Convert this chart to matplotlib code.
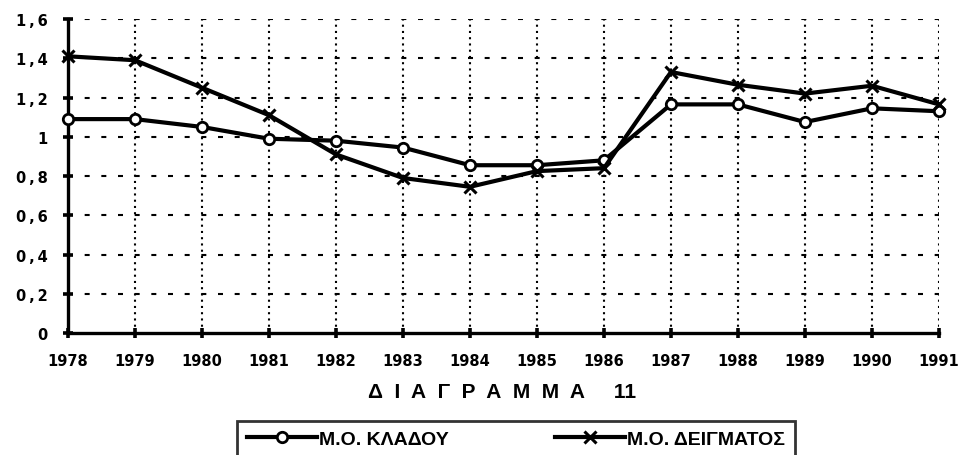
import matplotlib.pyplot as plt
import matplotlib.ticker as mticker

# Values
years = [1978, 1979, 1980, 1981, 1982, 1983, 1984, 1985, 1986, 1987, 1988, 1989, 1990, 1991]
mo_kladou = [1.09, 1.09, 1.05, 0.99, 0.98, 0.945, 0.855, 0.855, 0.88, 1.165, 1.165, 1.075, 1.145, 1.13]
mo_deigmatos = [1.41, 1.39, 1.25, 1.11, 0.91, 0.79, 0.745, 0.825, 0.84, 1.33, 1.265, 1.22, 1.26, 1.165]
y_ticks = [0, 0.2, 0.4, 0.6, 0.8, 1.0, 1.2, 1.4, 1.6]
label_kladou = 'Μ.Ο. ΚΛΑΔΟΥ'
label_deigmatos = 'Μ.Ο. ΔΕΙΓΜΑΤΟΣ'
title = 'Δ  Ι  Α  Γ  Ρ  Α  Μ  Μ  Α     11'

fig = plt.figure(figsize=(9.67, 4.56), dpi=100)
ax = fig.add_axes([0.0703, 0.2675, 0.9007, 0.6886])

# Grid: short-dash horizontals, dotted verticals
for y in y_ticks[1:]:
    ax.axhline(y, color='black', lw=1.5, linestyle=(0, (2.4, 5.6)), zorder=1)
for x in years[1:]:
    ax.axvline(x, color='black', lw=1.5, linestyle=(0, (1, 2)), zorder=1)

ax.plot(years, mo_kladou, color='black', lw=3, marker='o', markersize=7.5,
        markerfacecolor='white', markeredgecolor='black', markeredgewidth=2,
        label=label_kladou, clip_on=False, zorder=3)
ax.plot(years, mo_deigmatos, color='black', lw=3, marker='x', markersize=9,
        markeredgewidth=2.2, label=label_deigmatos, clip_on=False, zorder=3)

ax.set_xlim(1978, 1991)
ax.set_ylim(0, 1.6)
ax.set_xticks(years)
ax.set_yticks(y_ticks)
# comma decimals, spaced out like the old typewriter font
ax.yaxis.set_major_formatter(mticker.FuncFormatter(
    lambda v, p: ('%g' % round(v, 1)).replace('.', '\u2009,\u2009')))

for side in ['top', 'right']:
    ax.spines[side].set_visible(False)
for side in ['left', 'bottom']:
    ax.spines[side].set_linewidth(2.4)

ax.tick_params(direction='inout', length=7, width=2.6, pad=11)
for lab in ax.get_xticklabels() + ax.get_yticklabels():
    lab.set_fontfamily('DejaVu Sans')
    lab.set_fontweight('heavy')
    lab.set_fontsize(10.5)

fig.text(502 / 967, 1 - 393 / 456, title, ha='center', va='center',
         fontsize=15, fontweight='bold', family='Liberation Sans')

leg = fig.legend(loc='upper center', bbox_to_anchor=(516 / 967, 1 - 416 / 456),
                 ncol=2, frameon=True, fancybox=False, handlelength=3.6,
                 handletextpad=0.1, columnspacing=5.5, borderpad=0.5,
                 borderaxespad=0.3,
                 prop={'family': 'Liberation Sans', 'weight': 'bold', 'size': 14})
leg.get_frame().set_edgecolor('black')
leg.get_frame().set_linewidth(2)

fig.savefig('out.png', dpi=100)
